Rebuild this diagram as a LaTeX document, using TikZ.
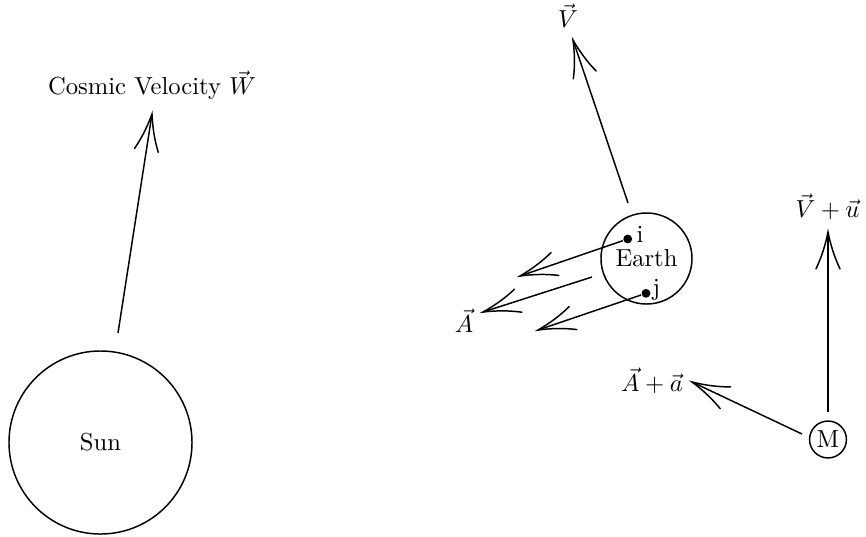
\documentclass[tikz,border=0pt]{standalone}
\usetikzlibrary{arrows.meta}
\pgfdeclarearrow{
  name = PicTo,
  setup code = {
    \pgfarrowssettipend{0pt}
    \pgfarrowssetlineend{-0.2pt}
    \pgfarrowssetbackend{-15pt}
    \pgfarrowsupperhullpoint{-15pt}{5pt}
    \pgfarrowsupperhullpoint{0pt}{0pt}
  },
  drawing code = {
    \pgfsetdash{}{0pt}
    \pgfsetroundcap
    \pgfpathmoveto{\pgfqpoint{-15pt}{4.9pt}}
    \pgfpathcurveto{\pgfqpoint{-10pt}{2.5pt}}{\pgfqpoint{-5pt}{1pt}}{\pgfqpoint{0pt}{0pt}}
    \pgfpathcurveto{\pgfqpoint{-5pt}{-1pt}}{\pgfqpoint{-10pt}{-2.5pt}}{\pgfqpoint{-15pt}{-4.9pt}}
    \pgfusepathqstroke
  }
}
\begin{document}
\begin{tikzpicture}[x=0.4065pt,y=-0.4065pt, line width=0.6pt,
  vec/.style={-PicTo},
  body/.style={circle,draw,inner sep=0pt},
  dotnode/.style={circle,fill,inner sep=0pt,minimum size=3.6pt},
  lbl/.style={inner sep=0pt}]
\useasboundingbox (0,0) rectangle (866,536);
% Sun
\node[body,minimum size=74.4pt] (sun) at (100.5,442.5) {Sun};
\node[lbl] (W) at (152,85) {Cosmic Velocity $\vec W$};
\coordinate (sunout) at (118,333);
\coordinate (Wtip) at (152,114);
\draw[vec] (sunout) -- (Wtip);
% Earth
\node[body,minimum size=37pt] (earth) at (646.5,258.5) {Earth};
\node[lbl] (V) at (568,16) {$\vec V$};
\coordinate (earthout) at (628,203);
\coordinate (Vtip) at (573,40);
\draw[vec] (earthout) -- (Vtip);
\node[dotnode] (i) at (627.7,239) {};
\node[dotnode] (j) at (646,293.3) {};
\node[lbl,anchor=base west] (ilbl) at (636,242) {i};
\node[lbl,anchor=base west] (jlbl) at (652,295) {j};
\coordinate (itip) at (520,276);
\coordinate (mstart) at (592,277);
\coordinate (mtip) at (483,312);
\coordinate (jtip) at (538,330);
\draw[vec] (i) -- (itip);
\draw[vec] (mstart) -- (mtip);
\draw[vec] (j) -- (jtip);
\node[lbl] (A) at (464,321) {$\vec A$};
% M
\node[body,minimum size=15pt] (M) at (828,439.5) {M};
\coordinate (Mup) at (828,412);
\coordinate (Vutip) at (828,232);
\draw[vec] (Mup) -- (Vutip);
\node[lbl] (Vu) at (827.5,207) {$\vec V+\vec u$};
\coordinate (Mleft) at (802,434);
\coordinate (Aatip) at (692,382);
\draw[vec] (Mleft) -- (Aatip);
\node[lbl] (Aa) at (652,381) {$\vec A+\vec a$};
\end{tikzpicture}
\end{document}
